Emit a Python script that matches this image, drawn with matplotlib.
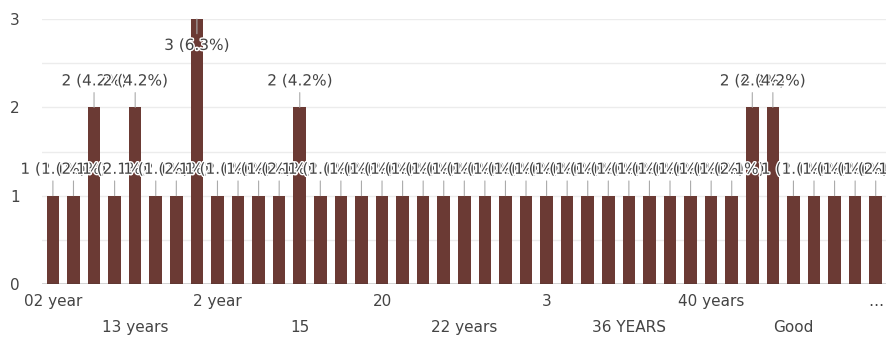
import matplotlib
matplotlib.use("Agg")
import matplotlib.pyplot as plt
import matplotlib.patheffects as pe
import numpy as np

# answers (in the order the form shows them) and how many people gave each
categories = ["02 year", "1 year", "10 years", "11 years", "13 years", "14", "14 years",
              "16 years", "2 year", "2 years", "20 years", "21 years", "15", "18",
              "18 years", "19 years", "20", "21", "25 years", "25", "22 years",
              "23 years", "24 years", "26 years", "3", "30 years", "32 years", "35",
              "36 YEARS", "38 years", "39 years", "4 years", "40 years", "41 years",
              "5 years", "6 years", "Good", "7 years", "8 years", "9 years", "…"]
counts = [1, 1, 2, 1, 2, 1, 1, 3, 1, 1, 1, 1, 2, 1, 1, 1, 1, 1, 1, 1, 1,
          1, 1, 1, 1, 1, 1, 1, 1, 1, 1, 1, 1, 1, 2, 2, 1, 1, 1, 1, 1]

total = sum(counts)
bar_color = "#6b3a34"
text_color = "#444444"

plt.rcParams['font.family'] = ['DejaVu Sans']

fig = plt.figure(figsize=(8.86, 3.39), dpi=100)
ax = fig.add_axes([42/886, 55/339, 844/886, 265/339])

x = np.arange(len(categories))
ax.bar(x, counts, width=0.61, color=bar_color, zorder=2)
ax.set_xlim(-0.53, len(categories) - 0.5)
ax.set_ylim(0, 3)

# grid every half step, labels on whole numbers only
ax.set_yticks([0, 1, 2, 3])
ax.set_yticks([0.5, 1.5, 2.5], minor=True)
ax.grid(axis='y', which='both', color='#ececec', lw=1, zorder=0)
ax.tick_params(axis='y', which='both', length=0, pad=16, labelsize=11, labelcolor=text_color)
ax.axhline(0, color='#333333', lw=1, zorder=3)
for s in ax.spines.values():
    s.set_visible(False)

# x labels staggered on two rows
ax.set_xticks(x[0::8])
ax.set_xticklabels([categories[i] for i in x[0::8]])
ax.set_xticks(x[4::8], minor=True)
ax.set_xticklabels([categories[i] for i in x[4::8]], minor=True)
ax.tick_params(axis='x', which='major', length=0, pad=7, labelsize=11, labelcolor=text_color)
ax.tick_params(axis='x', which='minor', length=0, pad=26, labelsize=11, labelcolor=text_color)

# value labels with leader lines
for i, v in zip(x, counts):
    pct = int(v / total * 1000 + 0.5) / 10
    off = -19 if v == 3 else 19
    ax.annotate(f"{v} ({pct}%)", xy=(i, v), xytext=(0, off), textcoords='offset points',
                ha='center', va='center', fontsize=11, color=text_color,
                arrowprops=dict(arrowstyle='-', color='#aaaaaa', lw=0.8, shrinkA=1, shrinkB=0),
                path_effects=[pe.withStroke(linewidth=2, foreground='white')],
                zorder=4, annotation_clip=False)

fig.savefig("out.png", dpi=100)
